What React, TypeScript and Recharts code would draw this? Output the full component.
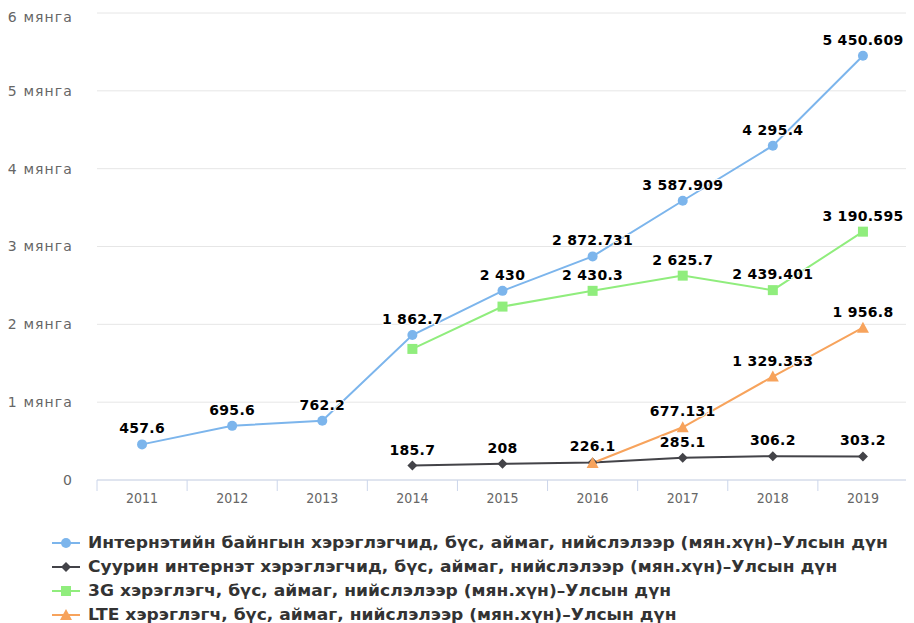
import React from 'react';
import { LineChart, Line, XAxis, YAxis, CartesianGrid, LabelList } from 'recharts';

const years = ['2011', '2012', '2013', '2014', '2015', '2016', '2017', '2018', '2019'];
const internetUsers = [457.6, 695.6, 762.2, 1862.7, 2430, 2872.731, 3587.909, 4295.4, 5450.609];
const fixedUsers = [null, null, null, 185.7, 208, 226.1, 285.1, 306.2, 303.2];
const users3G = [null, null, null, 1684, 2228, 2430.3, 2625.7, 2439.401, 3190.595];
const usersLTE = [null, null, null, null, null, 218, 677.131, 1329.353, 1956.8];
const yTicks = [0, 1000, 2000, 3000, 4000, 5000, 6000];

const hidden3GLabels = ['2014', '2015'];
const hiddenLTELabels = ['2016'];

const seriesNames = [
  'Интернэтийн байнгын хэрэглэгчид, бүс, аймаг, нийслэлээр (мян.хүн)–Улсын дүн',
  'Суурин интернэт хэрэглэгчид, бүс, аймаг, нийслэлээр (мян.хүн)–Улсын дүн',
  '3G хэрэглэгч, бүс, аймаг, нийслэлээр (мян.хүн)–Улсын дүн',
  'LTE хэрэглэгч, бүс, аймаг, нийслэлээр (мян.хүн)–Улсын дүн',
];

const COLORS = ['#7cb5ec', '#434348', '#90ed7d', '#f7a35c'];

const data = years.map((y, i) => ({
  year: y,
  internet: internetUsers[i],
  fixed: fixedUsers[i],
  g3: users3G[i],
  lte: usersLTE[i],
}));

const FONT = '"DejaVu Sans", Verdana, sans-serif';

function fmt(v: number): string {
  const s = String(v);
  const [intPart, dec] = s.split('.');
  const withSp = intPart.replace(/\B(?=(\d{3})+(?!\d))/g, ' ');
  return dec ? `${withSp}.${dec}` : withSp;
}

function makeLabel(hiddenYears: string[]) {
  return (props: any) => {
    const { x, y, value, index } = props;
    if (value == null || y == null) return null;
    if (hiddenYears.includes(years[index])) return null;
    return (
      <text
        x={x}
        y={y - 11}
        textAnchor="middle"
        fontFamily={FONT}
        fontWeight="bold"
        fontSize={14}
        letterSpacing={0.3}
        fill="#000"
        stroke="#fff"
        strokeWidth={2}
        paintOrder="stroke"
        strokeLinejoin="round"
      >
        {fmt(value)}
      </text>
    );
  };
}

const DiamondDot = (props: any) => {
  const { cx, cy, value, index } = props;
  if (value == null || cy == null) return <g key={`d${index}`} />;
  const s = 5;
  return (
    <path
      key={`d${index}`}
      d={`M${cx},${cy - s}L${cx + s},${cy}L${cx},${cy + s}L${cx - s},${cy}Z`}
      fill={COLORS[1]}
    />
  );
};

const SquareDot = (props: any) => {
  const { cx, cy, value, index } = props;
  if (value == null || cy == null) return <g key={`s${index}`} />;
  const s = 5;
  return <rect key={`s${index}`} x={cx - s} y={cy - s} width={2 * s} height={2 * s} fill={COLORS[2]} />;
};

const TriangleDot = (props: any) => {
  const { cx, cy, value, index } = props;
  if (value == null || cy == null) return <g key={`t${index}`} />;
  const s = 6;
  return (
    <path
      key={`t${index}`}
      d={`M${cx},${cy - s}L${cx + s},${cy + s - 1}L${cx - s},${cy + s - 1}Z`}
      fill={COLORS[3]}
    />
  );
};

const XTick = (props: any) => {
  const { x, y, payload, index } = props;
  const off = payload.offset || 0;
  const isLast = index === years.length - 1;
  return (
    <g>
      <line x1={x - off} y1={y} x2={x - off} y2={y + 11} stroke="#ccd6eb" strokeWidth={1} />
      {isLast && <line x1={x + off} y1={y} x2={x + off} y2={y + 11} stroke="#ccd6eb" strokeWidth={1} />}
      <text x={x} y={y + 23} textAnchor="middle" fontFamily='"DejaVu Sans Condensed", "DejaVu Sans", sans-serif' fontSize={14} fill="#666">
        {payload.value}
      </text>
    </g>
  );
};

const YTick = (props: any) => {
  const { x, y, payload } = props;
  const v = payload.value;
  return (
    <text x={x} y={y} dy="0.355em" textAnchor="end" fontFamily={FONT} fontSize={14} letterSpacing={1.1} fill="#666">
      {v === 0 ? '0' : `${v / 1000} мянга`}
    </text>
  );
};

const LegendSymbol = ({ i }: { i: number }) => {
  const c = COLORS[i];
  const cx = 14;
  const cy = 8;
  let marker: any;
  if (i === 0) marker = <circle cx={cx} cy={cy} r={5} fill={c} />;
  else if (i === 1) marker = <path d={`M${cx},${cy - 5}L${cx + 5},${cy}L${cx},${cy + 5}L${cx - 5},${cy}Z`} fill={c} />;
  else if (i === 2) marker = <rect x={cx - 5} y={cy - 5} width={10} height={10} fill={c} />;
  else marker = <path d={`M${cx},${cy - 6}L${cx + 6},${cy + 5}L${cx - 6},${cy + 5}Z`} fill={c} />;
  return (
    <svg width={30} height={16} style={{ display: 'block', marginRight: 6 }}>
      <line x1={0} y1={cy} x2={28} y2={cy} stroke={c} strokeWidth={2} />
      {marker}
    </svg>
  );
};

export default function App() {
  return (
    <div style={{ width: 906, background: '#fff' }}>
      <LineChart width={906} height={500} data={data} margin={{ top: 5, right: 6, bottom: 0, left: 0 }}>
        <CartesianGrid horizontal vertical={false} stroke="#e6e6e6" />
        <XAxis
          dataKey="year"
          scale="band"
          height={28}
          axisLine={{ stroke: '#ccd6eb' }}
          tickLine={false}
          tickSize={0}
          tickMargin={0}
          tick={<XTick />}
          interval={0}
        />
        <YAxis
          width={89}
          domain={[0, 6000]}
          ticks={yTicks}
          axisLine={false}
          tickLine={false}
          tickMargin={18}
          tick={<YTick />}
        />
        <Line
          dataKey="internet"
          stroke={COLORS[0]}
          strokeWidth={2}
          dot={{ r: 5, fill: COLORS[0], stroke: COLORS[0], strokeWidth: 0 }}
          activeDot={false}
          isAnimationActive={false}
        >
          <LabelList dataKey="internet" content={makeLabel([])} />
        </Line>
        <Line
          dataKey="fixed"
          stroke={COLORS[1]}
          strokeWidth={2}
          dot={DiamondDot}
          activeDot={false}
          isAnimationActive={false}
        >
          <LabelList dataKey="fixed" content={makeLabel([])} />
        </Line>
        <Line
          dataKey="g3"
          stroke={COLORS[2]}
          strokeWidth={2}
          dot={SquareDot}
          activeDot={false}
          isAnimationActive={false}
        >
          <LabelList dataKey="g3" content={makeLabel(hidden3GLabels)} />
        </Line>
        <Line
          dataKey="lte"
          stroke={COLORS[3]}
          strokeWidth={2}
          dot={TriangleDot}
          activeDot={false}
          isAnimationActive={false}
        >
          <LabelList dataKey="lte" content={makeLabel(hiddenLTELabels)} />
        </Line>
      </LineChart>
      <div style={{ paddingTop: 23, paddingLeft: 44 }}>
        {seriesNames.map((n, i) => (
          <div key={n} style={{ display: 'flex', alignItems: 'center', height: 24 }}>
            <LegendSymbol i={i} />
            <span
              style={{
                fontFamily: FONT,
                fontWeight: 'bold',
                fontSize: 15,
                color: '#333',
                whiteSpace: 'nowrap',
                display: 'inline-block',
                transform: 'scaleX(1.14)',
                transformOrigin: 'left center',
              }}
            >
              {n}
            </span>
          </div>
        ))}
      </div>
    </div>
  );
}
